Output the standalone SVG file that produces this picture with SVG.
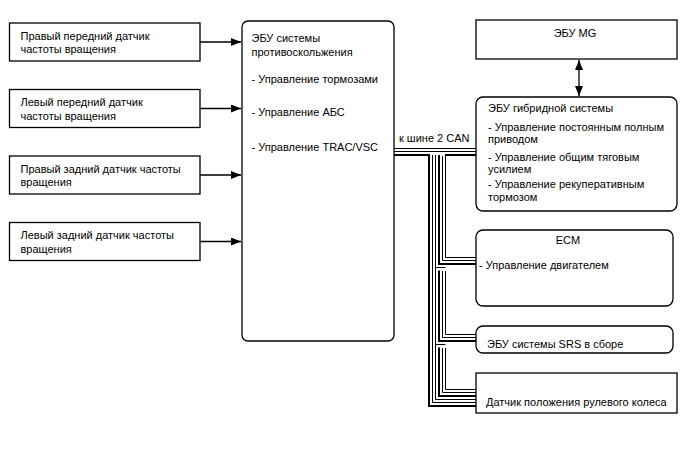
<svg xmlns="http://www.w3.org/2000/svg" width="688" height="463" viewBox="0 0 688 463">
<defs>
<style>
text{font-family:"Liberation Sans",Arial,sans-serif;font-size:11px;fill:#000}
.box{fill:#fff;stroke:#000;stroke-width:1.3}
.ar{stroke:#000;stroke-width:1.3;fill:none}
.thk{stroke:#000;stroke-width:2;fill:none}
.thn{stroke:#000;stroke-width:1;fill:none}
</style>
<marker id="ah" viewBox="0 0 10 8" refX="10" refY="4" markerWidth="10" markerHeight="8" markerUnits="userSpaceOnUse" orient="auto-start-reverse">
<path d="M0,0 L10,4 L0,8 Z" fill="#000"/>
</marker>
</defs>
<rect width="688" height="463" fill="#fff"/>

<g id="sensor-fr">
<rect class="box" x="9.5" y="23" width="190.5" height="38"/>
<text x="20.5" y="39.5">Правый передний датчик</text>
<text x="20.5" y="53">частоты вращения</text>
</g>
<g id="sensor-fl">
<rect class="box" x="9.5" y="89.5" width="190.5" height="38"/>
<text x="20.5" y="106">Левый передний датчик</text>
<text x="20.5" y="119.5">частоты вращения</text>
</g>
<g id="sensor-rr">
<rect class="box" x="9.5" y="156" width="190.5" height="38"/>
<text x="20.5" y="172.5">Правый задний датчик частоты</text>
<text x="20.5" y="186">вращения</text>
</g>
<g id="sensor-rl">
<rect class="box" x="9.5" y="222.5" width="190.5" height="38"/>
<text x="20.5" y="239">Левый задний датчик частоты</text>
<text x="20.5" y="252.5">вращения</text>
</g>

<g id="abs-ecu">
<rect class="box" x="242" y="21" width="152" height="320" rx="6"/>
<text x="251.5" y="42">ЭБУ системы</text>
<text x="251.5" y="55.5">противоскольжения</text>
<text x="251.5" y="83">- Управление тормозами</text>
<text x="251.5" y="115.5">- Управление АБС</text>
<text x="251.5" y="150.5">- Управление TRAC/VSC</text>
</g>

<g id="mg-ecu">
<rect class="box" x="476" y="20" width="201" height="39"/>
<text x="575" y="36.5" text-anchor="middle">ЭБУ MG</text>
</g>

<g id="hybrid-ecu">
<rect class="box" x="476" y="97" width="201" height="114" rx="7"/>
<text x="488" y="111.5">ЭБУ гибридной системы</text>
<text x="488" y="131">- Управление постоянным полным</text>
<text x="488" y="143">приводом</text>
<text x="488" y="160.5">- Управление общим тяговым</text>
<text x="488" y="173">усилием</text>
<text x="488" y="188">- Управление рекуперативным</text>
<text x="488" y="201">тормозом</text>
</g>

<g id="ecm">
<rect class="box" x="476" y="230" width="197" height="76" rx="7"/>
<text x="568" y="244" text-anchor="middle">ECM</text>
<text x="479" y="269">- Управление двигателем</text>
</g>

<g id="srs-ecu">
<rect class="box" x="476" y="326" width="197" height="27" rx="7"/>
<text x="487" y="348">ЭБУ системы SRS в сборе</text>
</g>

<g id="steering-sensor">
<rect class="box" x="476" y="373" width="201" height="40"/>
<text x="486" y="405.5">Датчик положения рулевого колеса</text>
</g>

<g id="connectors">
<path class="ar" d="M200,42 H241" marker-end="url(#ah)"/>
<path class="ar" d="M200,108.5 H241" marker-end="url(#ah)"/>
<path class="ar" d="M200,175 H241" marker-end="url(#ah)"/>
<path class="ar" d="M200,241.5 H241" marker-end="url(#ah)"/>
<path class="ar" d="M579,60 V96" marker-start="url(#ah)" marker-end="url(#ah)"/>
<text x="399" y="142">к шине 2 CAN</text>
<!-- trunk -->
<path class="thn" d="M394,148.5 H476"/>
<path class="thn" d="M394,151.5 H476"/>
<path class="thk" d="M445,155 H476"/>
<!-- left bundle to steering sensor -->
<path class="thk" d="M394,155 H429 V406 H476"/>
<path class="thn" d="M432.5,155 V402.5 H476"/>
<path class="thn" d="M435.5,155 V399.5 H476"/>
<!-- ECM segment -->
<path class="thk" d="M439,155 V264 H476"/>
<path class="thn" d="M442.5,156 V260.5 H476"/>
<path class="thn" d="M445.5,156 V257.5 H476"/>
<!-- SRS segment -->
<path class="thn" d="M435.5,267.5 H445.5"/>
<path class="thk" d="M439,270.5 V341 H476"/>
<path class="thn" d="M442.5,271 V337.5 H476"/>
<path class="thn" d="M445.5,271 V334.5 H476"/>
<!-- steering segment -->
<path class="thn" d="M435.5,344.5 H445.5"/>
<path class="thk" d="M439,347.5 V396 H476"/>
<path class="thn" d="M442.5,348 V392.5 H476"/>
<path class="thn" d="M445.5,348 V389.5 H476"/>
</g>
</svg>
